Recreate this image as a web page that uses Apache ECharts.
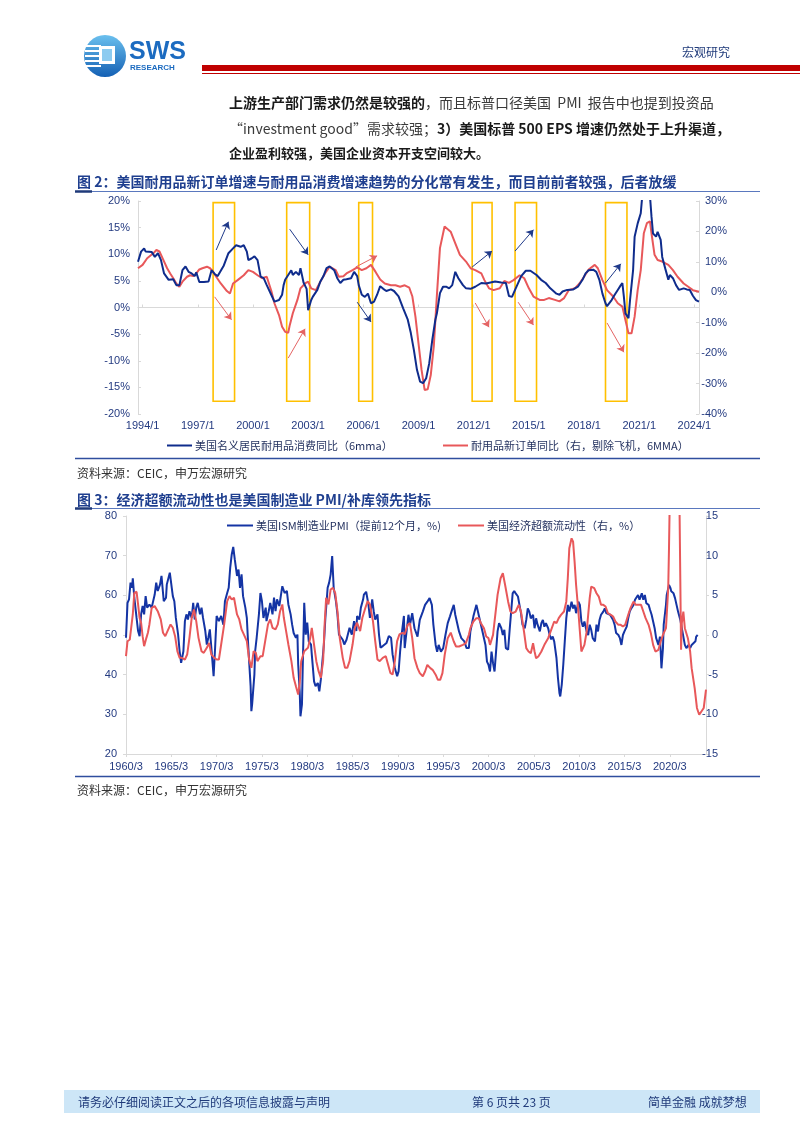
<!DOCTYPE html>
<html><head><meta charset="utf-8">
<script src="https://cdn.jsdelivr.net/npm/echarts/dist/echarts.min.js"></script>
<style>html,body{margin:0;padding:0;background:#fff}#c{width:802px;height:1133px}</style>
</head><body><div id="c"></div>
<script>
// ---------------- data (decimal year, value) ----------------
// Figure 2: US nominal durable goods consumption YoY (6mma), left axis, %
const durConsumption = [[1993.75,8.6],[1993.9,10.5],[1994.05,11.1],[1994.2,10.5],[1994.47,10.4],[1994.65,9.5],[1994.84,10.2],[1995.0,8.9],[1995.2,6.4],[1995.38,5.2],[1995.65,5.3],[1995.84,4.2],[1996.0,4.2],[1996.15,7.0],[1996.3,7.7],[1996.47,6.7],[1996.66,6.4],[1996.84,5.9],[1996.95,6.6],[1997.1,4.8],[1997.3,4.8],[1997.55,4.9],[1997.75,7.0],[1997.9,6.3],[1998.1,5.9],[1998.4,7.9],[1998.65,10.2],[1998.93,11.1],[1999.06,11.7],[1999.3,11.4],[1999.47,11.7],[1999.66,10.5],[1999.75,8.9],[1999.93,9.2],[2000.1,9.6],[2000.26,8.9],[2000.38,5.8],[2000.56,5.5],[2000.75,4.2],[2001.0,2.35],[2001.2,1.1],[2001.38,1.4],[2001.57,2.4],[2001.65,4.2],[2001.78,5.2],[2001.93,6.1],[2002.05,7.0],[2002.2,6.1],[2002.33,6.7],[2002.47,6.1],[2002.62,7.4],[2002.75,4.7],[2002.88,3.5],[2003.02,-0.5],[2003.15,1.4],[2003.29,2.0],[2003.47,3.3],[2003.65,4.9],[2003.84,5.9],[2004.0,7.4],[2004.2,7.7],[2004.38,7.0],[2004.56,5.5],[2004.75,4.6],[2004.93,5.2],[2005.1,5.3],[2005.3,5.5],[2005.47,6.7],[2005.65,5.9],[2005.78,4.2],[2005.93,2.4],[2006.1,2.0],[2006.29,2.6],[2006.44,0.8],[2006.56,1.1],[2006.75,2.4],[2006.93,4.0],[2007.1,3.5],[2007.29,3.1],[2007.47,3.4],[2007.7,3.1],[2007.93,2.1],[2008.2,-0.15],[2008.38,-2.3],[2008.56,-4.8],[2008.75,-8.0],[2008.93,-11.7],[2009.1,-13.9],[2009.24,-14.2],[2009.38,-13.3],[2009.56,-10.5],[2009.75,-6.1],[2009.93,-2.3],[2010.02,-1.1],[2010.15,2.7],[2010.3,3.9],[2010.47,3.9],[2010.65,3.6],[2010.84,4.2],[2011.02,6.7],[2011.2,5.5],[2011.38,4.2],[2011.56,3.6],[2011.84,3.5],[2012.1,3.9],[2012.38,4.6],[2012.65,4.5],[2012.93,4.7],[2013.2,4.9],[2013.47,4.7],[2013.75,4.6],[2013.93,2.15],[2014.1,2.0],[2014.29,3.3],[2014.56,5.9],[2014.84,6.9],[2015.1,6.9],[2015.38,6.1],[2015.65,5.2],[2015.93,4.6],[2016.2,3.6],[2016.47,2.6],[2016.65,2.4],[2016.84,3.0],[2017.1,3.3],[2017.38,3.4],[2017.65,3.9],[2017.93,5.2],[2018.1,6.4],[2018.29,7.0],[2018.47,7.1],[2018.65,6.7],[2018.84,5.2],[2019.02,2.6],[2019.2,0.8],[2019.29,0.25],[2019.47,1.4],[2019.65,2.4],[2019.84,3.3],[2020.02,4.2],[2020.1,4.6],[2020.16,2.0],[2020.29,-1.1],[2020.38,-2.0],[2020.53,1.4],[2020.66,7.0],[2020.79,13.3],[2020.93,15.8],[2021.07,17.7],[2021.15,21],[2021.25,26],[2021.35,28],[2021.45,25],[2021.56,21],[2021.66,17.1],[2021.75,13.9],[2021.88,13.3],[2022.02,14.2],[2022.16,12.7],[2022.29,9.5],[2022.38,7.3],[2022.56,5.2],[2022.7,6.1],[2022.84,5.5],[2023.02,4.2],[2023.2,3.3],[2023.38,3.6],[2023.56,3.4],[2023.75,3.3],[2023.93,2.2],[2024.1,1.4],[2024.25,1.1]];
// Figure 2: durable goods new orders YoY ex aircraft (6MMA), right axis, %
const durOrders = [[1993.75,7.9],[1994.0,9.0],[1994.28,11.2],[1994.56,12.8],[1994.75,13.9],[1994.93,13.4],[1995.1,11.2],[1995.3,7.9],[1995.47,6.2],[1995.65,4.6],[1995.84,2.9],[1996.02,1.8],[1996.2,3.5],[1996.38,5.1],[1996.56,5.6],[1996.75,5.3],[1996.93,6.2],[1997.1,7.5],[1997.29,7.9],[1997.47,8.4],[1997.65,7.9],[1997.84,6.7],[1998.02,5.1],[1998.29,2.9],[1998.56,0.4],[1998.75,-0.4],[1998.93,2.9],[1999.2,4.0],[1999.47,5.6],[1999.75,7.3],[2000.02,6.7],[2000.29,5.6],[2000.47,4.6],[2000.75,5.1],[2001.0,0.4],[2001.2,-3.6],[2001.38,-7.5],[2001.57,-11.3],[2001.75,-13.0],[2001.88,-13.3],[2002.02,-10.8],[2002.2,-6.9],[2002.38,-2.5],[2002.56,1.3],[2002.84,2.9],[2003.02,3.5],[2003.2,1.3],[2003.42,0.7],[2003.65,3.5],[2003.93,6.2],[2004.2,8.4],[2004.47,7.3],[2004.65,5.1],[2004.93,5.3],[2005.1,6.2],[2005.38,7.3],[2005.65,8.2],[2005.93,7.3],[2006.2,7.9],[2006.44,9.0],[2006.65,6.7],[2006.93,4.2],[2007.2,2.9],[2007.47,2.3],[2007.75,2.3],[2008.02,1.8],[2008.29,2.3],[2008.5,1.5],[2008.65,-1.4],[2008.84,-8.0],[2009.02,-16.8],[2009.2,-25.5],[2009.35,-32.1],[2009.47,-31.9],[2009.65,-27.2],[2009.84,-17.6],[2010.02,-1.0],[2010.2,14.5],[2010.38,21.6],[2010.53,22.2],[2010.75,19.9],[2011.02,16.1],[2011.29,12.3],[2011.56,10.1],[2011.84,7.9],[2012.1,7.3],[2012.38,6.2],[2012.56,4.0],[2012.84,1.3],[2013.1,0.7],[2013.38,1.3],[2013.65,3.7],[2013.93,3.1],[2014.2,4.0],[2014.47,5.6],[2014.75,4.6],[2015.02,1.3],[2015.29,-1.4],[2015.56,-2.5],[2015.84,-2.5],[2016.1,-1.9],[2016.38,-2.5],[2016.65,-3.0],[2016.93,-1.9],[2017.2,0.7],[2017.47,1.3],[2017.75,2.9],[2018.02,5.1],[2018.29,7.5],[2018.56,9.0],[2018.75,7.9],[2019.02,4.0],[2019.29,0.7],[2019.56,-1.4],[2019.84,-3.6],[2020.1,-4.7],[2020.25,-9.1],[2020.38,-13.5],[2020.56,-13.5],[2020.75,-8.0],[2020.93,0.7],[2021.1,7.3],[2021.29,19.4],[2021.44,22.7],[2021.56,23.3],[2021.69,19.4],[2021.84,12.3],[2022.02,10.6],[2022.29,10.1],[2022.56,9.0],[2022.84,7.3],[2023.1,5.1],[2023.38,2.9],[2023.65,1.8],[2023.93,0.7],[2024.25,0.2]];
// Figure 2 annotations: yellow boxes [start, end] (left-axis values) and arrows
const fig2Boxes = [[1997.82,1998.96], [2001.8,2003.1], [2005.75,2006.46], [2011.9,2012.98], [2014.24,2015.39], [2019.15,2020.35]];
const boxTop = 19.7, boxBottom = -17.6;
const blueArrows = [[[1998.04,10.8],[1998.64,16.1]],[[2002.02,14.7],[2003.0,9.9]],[[2005.67,1.0],[2006.44,-2.7]],[[2011.95,7.6],[2012.98,10.6]],[[2014.29,10.6],[2015.22,14.6]],[[2019.2,4.6],[2020.0,8.2]]];
const redArrows = [[[1997.93,2.0],[1998.8,-2.3]],[[2001.9,-9.5],[2002.84,-4.0]],[[2005.56,7.6],[2006.76,9.7]],[[2012.1,0.85],[2012.87,-3.7]],[[2014.4,1.0],[2015.27,-3.3]],[[2019.25,-2.9],[2020.13,-8.4]]];

// Figure 3: ISM manufacturing PMI (lead 12m), left axis
const ismPMI = [[1960.17,49.3],[1960.3,58.1],[1960.5,59.0],[1960.65,63.2],[1960.8,61.9],[1960.95,64.3],[1961.1,59.4],[1961.3,54.3],[1961.5,51.0],[1961.65,49.7],[1961.85,55.2],[1962.0,57.3],[1962.2,55.2],[1962.3,59.8],[1962.5,56.9],[1962.75,57.7],[1963.0,56.9],[1963.3,60.2],[1963.5,63.2],[1963.7,61.1],[1963.9,62.7],[1964.1,64.9],[1964.35,58.5],[1964.55,59.4],[1964.7,62.7],[1964.98,65.7],[1965.17,65.3],[1965.35,59.8],[1965.54,58.5],[1965.7,54.3],[1965.9,50.1],[1966.1,45.9],[1966.28,43.0],[1966.5,45.9],[1966.65,53.5],[1966.85,55.2],[1967.0,53.9],[1967.2,56.0],[1967.4,54.3],[1967.55,58.1],[1967.75,53.9],[1967.95,56.9],[1968.1,58.1],[1968.3,55.2],[1968.5,56.9],[1968.7,54.3],[1968.9,51.0],[1969.05,47.6],[1969.25,49.3],[1969.4,51.4],[1969.6,46.8],[1969.8,39.6],[1969.98,46.8],[1970.17,54.8],[1970.4,53.5],[1970.7,54.8],[1970.9,52.6],[1971.1,58.5],[1971.3,60.6],[1971.5,61.9],[1971.65,67.0],[1971.85,70.3],[1972.0,72.2],[1972.2,69.1],[1972.4,64.9],[1972.55,66.5],[1972.75,61.9],[1972.95,65.3],[1973.1,59.8],[1973.3,56.9],[1973.5,54.3],[1973.7,46.8],[1973.9,37.1],[1974.0,30.8],[1974.1,32.5],[1974.3,40.0],[1974.4,45.9],[1974.6,49.3],[1974.8,55.2],[1975.0,60.6],[1975.17,58.5],[1975.35,54.3],[1975.55,56.9],[1975.7,53.5],[1975.9,56.0],[1976.1,58.1],[1976.3,55.2],[1976.5,59.4],[1976.65,56.0],[1976.85,59.0],[1977.1,57.3],[1977.3,61.1],[1977.45,62.3],[1977.7,60.6],[1977.95,61.1],[1978.1,57.7],[1978.3,55.2],[1978.5,52.6],[1978.7,50.5],[1978.9,49.3],[1979.05,50.1],[1979.17,42.6],[1979.3,35.8],[1979.4,29.5],[1979.55,32.5],[1979.7,41.7],[1979.8,58.1],[1979.98,50.1],[1980.17,53.1],[1980.35,48.4],[1980.55,47.6],[1980.7,45.1],[1980.9,38.3],[1981.1,37.1],[1981.3,37.9],[1981.5,35.8],[1981.65,38.8],[1981.85,39.2],[1982.0,47.6],[1982.2,54.3],[1982.4,61.9],[1982.6,63.2],[1982.75,65.3],[1982.95,69.9],[1983.1,61.9],[1983.3,58.5],[1983.5,55.2],[1983.7,50.1],[1983.85,50.5],[1984.05,48.8],[1984.25,47.6],[1984.5,48.8],[1984.8,51.8],[1985.1,50.1],[1985.35,53.5],[1985.55,51.0],[1985.7,54.8],[1985.9,53.9],[1986.1,56.9],[1986.3,59.0],[1986.45,60.2],[1986.7,60.9],[1986.95,57.7],[1987.1,54.3],[1987.3,59.0],[1987.5,56.0],[1987.7,53.9],[1987.9,55.2],[1988.05,50.1],[1988.25,46.8],[1988.5,47.2],[1988.9,48.0],[1989.2,49.7],[1989.4,49.3],[1989.6,45.1],[1989.8,41.7],[1990.05,39.6],[1990.25,40.9],[1990.45,45.9],[1990.6,50.1],[1990.8,54.8],[1990.93,46.7],[1991.15,51.7],[1991.3,55.1],[1991.5,52.6],[1991.77,55.5],[1992.0,51.7],[1992.3,49.6],[1992.6,53.8],[1992.9,55.9],[1993.15,57.6],[1993.45,58.4],[1993.7,59.3],[1993.9,57.6],[1994.1,52.6],[1994.3,47.5],[1994.47,45.8],[1994.65,47.5],[1994.9,45.8],[1995.17,46.7],[1995.4,50.0],[1995.65,53.0],[1995.9,54.7],[1996.1,55.9],[1996.3,57.6],[1996.5,55.1],[1996.7,54.7],[1996.95,50.9],[1997.2,49.2],[1997.5,48.4],[1997.75,46.7],[1998.0,46.7],[1998.2,50.9],[1998.5,54.7],[1998.8,57.6],[1998.97,57.6],[1999.2,54.2],[1999.5,50.9],[1999.8,47.5],[2000.0,43.3],[2000.15,42.5],[2000.37,40.8],[2000.52,45.8],[2000.67,42.9],[2000.82,40.8],[2001.0,45.8],[2001.2,50.9],[2001.37,53.0],[2001.55,51.7],[2001.75,50.0],[2001.92,51.3],[2002.1,46.7],[2002.3,46.3],[2002.5,51.3],[2002.67,55.9],[2002.85,60.5],[2003.0,61.1],[2003.2,60.5],[2003.4,59.7],[2003.6,57.6],[2003.77,55.5],[2003.95,52.6],[2004.13,51.7],[2004.3,53.8],[2004.5,56.7],[2004.7,55.9],[2004.87,54.2],[2005.05,55.1],[2005.25,51.7],[2005.45,54.2],[2005.6,52.6],[2005.8,50.9],[2006.0,53.0],[2006.17,53.8],[2006.35,52.1],[2006.53,53.0],[2006.72,51.7],[2006.9,50.0],[2007.1,48.9],[2007.27,49.6],[2007.45,48.4],[2007.65,44.2],[2007.83,39.1],[2007.97,35.3],[2008.1,34.5],[2008.27,37.5],[2008.42,42.5],[2008.57,48.4],[2008.75,54.2],[2008.93,57.6],[2009.1,55.9],[2009.3,58.4],[2009.47,56.7],[2009.67,57.6],[2009.85,55.5],[2010.05,58.4],[2010.22,57.6],[2010.4,53.4],[2010.6,52.1],[2010.78,53.4],[2010.97,50.9],[2011.15,50.0],[2011.33,52.6],[2011.5,51.3],[2011.7,49.2],[2011.88,48.4],[2012.05,52.6],[2012.25,50.9],[2012.4,53.8],[2012.6,55.1],[2012.8,55.9],[2012.97,56.7],[2013.15,55.5],[2013.35,55.9],[2013.55,55.1],[2013.73,54.7],[2013.9,53.8],[2014.1,52.6],[2014.28,50.5],[2014.47,50.0],[2014.65,49.2],[2014.83,47.5],[2015.0,50.0],[2015.2,50.9],[2015.4,52.1],[2015.57,54.2],[2015.75,55.9],[2015.95,56.7],[2016.13,57.6],[2016.3,58.9],[2016.5,58.4],[2016.7,60.1],[2016.85,58.9],[2017.05,60.5],[2017.23,58.9],[2017.4,60.1],[2017.6,58.0],[2017.8,57.6],[2018.0,56.3],[2018.15,55.1],[2018.35,53.4],[2018.53,51.7],[2018.7,49.2],[2018.9,47.5],[2019.08,49.6],[2019.19,45.8],[2019.26,41.6],[2019.38,46.7],[2019.52,52.6],[2019.71,57.6],[2019.86,60.1],[2020.08,62.6],[2020.23,61.8],[2020.37,61.0],[2020.56,60.5],[2020.74,59.3],[2020.93,57.6],[2021.11,55.9],[2021.3,53.8],[2021.48,51.7],[2021.66,49.6],[2021.85,47.5],[2022.03,46.7],[2022.22,47.5],[2022.4,46.7],[2022.59,47.5],[2022.77,47.1],[2022.96,48.4],[2023.1,49.6],[2023.21,50.0]];
// Figure 3: US excess liquidity, right axis, %
const excessLiquidity = [[1960.17,-2.67],[1960.35,-0.78],[1960.55,-0.57],[1960.72,-0.36],[1960.9,2.59],[1961.1,5.32],[1961.3,5.45],[1961.5,3.85],[1961.65,2.17],[1961.85,1.54],[1962.0,-0.15],[1962.2,-1.41],[1962.4,-0.36],[1962.6,0.28],[1962.75,1.33],[1963.0,3.43],[1963.3,3.64],[1963.7,3.0],[1964.0,1.96],[1964.25,0.28],[1964.5,-0.15],[1964.8,0.7],[1965.05,1.33],[1965.35,0.91],[1965.6,-0.15],[1965.85,-2.04],[1966.1,-2.88],[1966.35,-2.88],[1966.65,-3.09],[1966.9,-2.46],[1967.2,-0.36],[1967.45,2.17],[1967.7,3.22],[1967.95,1.75],[1968.2,-0.36],[1968.5,-2.04],[1968.75,-2.25],[1969.05,-1.62],[1969.3,-0.99],[1969.6,-2.46],[1969.9,-2.88],[1970.17,-3.09],[1970.4,-3.09],[1970.7,-1.2],[1971.0,1.33],[1971.3,4.27],[1971.55,4.9],[1971.85,4.48],[1972.1,4.69],[1972.4,2.59],[1972.65,1.96],[1972.95,0.7],[1973.2,0.07],[1973.5,-0.78],[1973.75,-3.09],[1974.0,-4.14],[1974.25,-2.04],[1974.5,-2.25],[1974.7,-3.3],[1975.0,-2.67],[1975.25,-2.67],[1975.55,-0.36],[1975.85,1.33],[1976.1,1.96],[1976.35,0.91],[1976.65,0.7],[1976.95,1.33],[1977.2,3.0],[1977.4,3.85],[1977.55,2.17],[1977.8,0.49],[1978.1,-1.2],[1978.4,-3.3],[1978.7,-5.4],[1978.95,-6.46],[1979.17,-7.5],[1979.3,-6.03],[1979.5,-3.3],[1979.8,-2.04],[1980.0,-1.83],[1980.25,-1.62],[1980.5,-0.36],[1980.7,0.91],[1980.9,-1.2],[1981.15,-3.3],[1981.45,-4.56],[1981.7,-5.4],[1981.9,-3.3],[1982.1,1.33],[1982.25,4.69],[1982.5,3.85],[1982.75,5.74],[1983.0,5.95],[1983.25,5.32],[1983.5,3.0],[1983.75,-0.36],[1984.05,-2.88],[1984.35,-4.14],[1984.6,-4.14],[1984.87,-3.3],[1985.17,-1.2],[1985.45,0.91],[1985.7,1.54],[1985.98,0.49],[1986.27,2.17],[1986.57,3.43],[1986.83,4.27],[1987.1,3.85],[1987.4,1.75],[1987.7,-0.78],[1987.95,-3.09],[1988.2,-3.3],[1988.5,-2.88],[1988.8,-2.67],[1989.05,-3.72],[1989.3,-4.77],[1989.55,-4.98],[1989.8,-3.3],[1990.05,-0.78],[1990.35,0.07],[1990.65,0.28],[1990.9,0.1],[1991.22,1.28],[1991.5,1.49],[1991.77,-0.4],[1992.0,-2.92],[1992.3,-4.18],[1992.6,-4.8],[1992.9,-5.2],[1993.15,-4.6],[1993.45,-3.76],[1993.73,-4.18],[1994.0,-4.39],[1994.3,-5.0],[1994.6,-5.65],[1994.83,-5.65],[1995.05,-4.8],[1995.35,-2.5],[1995.65,-0.4],[1996.0,0.3],[1996.1,0.44],[1996.3,-0.82],[1996.57,-1.45],[1996.95,-1.45],[1997.3,-1.24],[1997.68,-1.03],[1998.0,0.02],[1998.2,0.86],[1998.5,1.7],[1998.8,2.12],[1999.05,2.12],[1999.35,1.49],[1999.65,0.86],[1999.9,-0.19],[2000.15,-0.4],[2000.37,-1.24],[2000.63,0.02],[2000.9,2.54],[2001.2,5.05],[2001.5,7.15],[2001.75,7.78],[2002.0,6.3],[2002.3,4.2],[2002.6,2.96],[2002.85,2.75],[2003.2,2.96],[2003.5,3.8],[2003.77,2.96],[2004.07,0.44],[2004.33,-1.66],[2004.6,-2.08],[2004.87,-2.29],[2005.05,-1.03],[2005.25,-2.08],[2005.43,-2.92],[2005.7,-2.71],[2006.0,-2.08],[2006.35,-1.24],[2006.72,-0.4],[2007.1,0.65],[2007.38,1.7],[2007.65,1.49],[2007.9,2.12],[2008.2,2.54],[2008.5,2.96],[2008.75,4.2],[2008.93,7.15],[2009.12,10.93],[2009.3,12.19],[2009.47,11.77],[2009.67,9.25],[2009.85,6.3],[2010.05,2.96],[2010.22,0.44],[2010.4,-2.08],[2010.6,-2.29],[2010.78,-1.24],[2010.97,0.44],[2011.15,2.54],[2011.33,4.64],[2011.5,6.1],[2011.8,5.9],[2012.05,5.26],[2012.3,4.84],[2012.55,3.8],[2012.8,3.8],[2013.05,3.59],[2013.35,2.75],[2013.65,2.54],[2013.9,2.33],[2014.15,1.7],[2014.47,1.28],[2014.77,1.28],[2015.0,1.07],[2015.28,1.28],[2015.57,2.54],[2015.87,3.38],[2016.13,4.2],[2016.4,3.8],[2016.7,3.8],[2016.97,3.8],[2017.23,2.96],[2017.5,2.12],[2017.8,1.28],[2018.1,0.23],[2018.35,-1.24],[2018.6,-2.08],[2018.9,-1.87],[2019.2,-0.82],[2019.45,0.02],[2019.71,0.86],[2019.86,2.54],[2019.97,5.9],[2020.07,10.9],[2020.2,17],[2020.35,22],[2020.6,25],[2020.9,24],[2021.1,20],[2021.28,15.5],[2021.4,-1.87],[2021.52,1.5],[2021.66,2.96],[2021.85,0.86],[2022.14,-0.4],[2022.4,-2.08],[2022.6,-4.18],[2022.88,-6.7],[2023.14,-9.2],[2023.4,-10.05],[2023.62,-10.26],[2023.88,-9.2],[2024.14,-6.9]];

// tick labels / names
const fig2Names = ['美国名义居民耐用品消费同比（6mma）', '耐用品新订单同比（右，剔除飞机，6MMA）'];
const fig3Names = ['美国ISM制造业PMI（提前12个月，%)', '美国经济超额流动性（右，%）'];

// ---------------- helpers ----------------
function months(y0, m0, y1, m1) { const a = []; let y = y0, m = m0; while (y < y1 || (y === y1 && m <= m1)) { a.push(y + '/' + m); m++; if (m > 12) { m = 1; y++; } } return a; }
const cat2 = months(1993, 10, 2024, 4);
const cat3 = months(1960, 3, 2024, 3);
function toCat(cats, d) {
  let y = Math.floor(d + 1e-6); let m = Math.round((d - y) * 12) + 1; if (m > 12) { m -= 12; y++; }
  let s = y + '/' + m;
  if (cats.indexOf(s) < 0) s = (y < 2000 ? cats[0] : cats[cats.length - 1]);
  return s;
}
const pts = (cats, arr) => arr.map(p => [toCat(cats, p[0]), p[1]]);

const CJK = '"Noto Sans CJK SC", "Liberation Sans", sans-serif';
const ARIAL = '"Liberation Sans", "Noto Sans CJK SC", sans-serif';
const NAVY = '#1F3A7A';
const LBL = '#233A80';
const AX = '#D9D9D9';
const BLUE2 = '#0F2C8C', BLUE3 = '#1434A4', RED = '#E8585A', YEL = '#FFC000';

const lab2 = (idx) => (idx - 3) % 36 === 0;
const lab3 = (idx) => idx % 60 === 0;

function T(x, y, text, font, fill, extra) {
  return { type: 'text', x: x, y: y, silent: true, z: 10,
    style: Object.assign({ text: text, font: font, fill: fill, verticalAlign: 'middle', textVerticalAlign: 'middle', align: 'left', textAlign: 'left' }, extra || {}) };
}
function L(x1, y1, x2, y2, color, w) {
  return { type: 'line', silent: true, z: 10, shape: { x1: x1, y1: y1, x2: x2, y2: y2 }, style: { stroke: color, lineWidth: w } };
}
function R(x, y, w, h, fill) {
  return { type: 'rect', silent: true, z: 10, shape: { x: x, y: y, width: w, height: h }, style: { fill: fill } };
}

const bodyRich = {
  b: { font: 'bold 14px ' + CJK, fill: '#1a1a1a' },
  n: { font: '14px ' + CJK, fill: '#3a3a3a' },
  b3: { font: 'bold 13px ' + CJK, fill: '#1a1a1a' }
};

const graphics = [
  // logo
  { type: 'circle', silent: true, z: 10, shape: { cx: 105, cy: 56, r: 21 },
    style: { fill: new echarts.graphic.LinearGradient(0, 0, 0, 1, [{ offset: 0, color: '#6BC0EE' }, { offset: 1, color: '#1460B4' }]) } },
  R(86, 45, 15, 2, '#ffffff'), R(85, 50, 16, 2, '#ffffff'), R(85, 55, 16, 2, '#ffffff'), R(85, 60, 16, 2, '#ffffff'), R(86, 65, 15, 2, '#ffffff'),
  R(99, 46, 16, 18, '#ffffff'), R(102, 49, 10, 12, '#8CCBF0'),
  T(129, 52, 'SWS', 'bold 25px "Liberation Sans", sans-serif', '#1C6BC0'),
  T(130, 68, 'RESEARCH', 'bold 8px "Liberation Sans", sans-serif', '#1C6BC0'),
  // header bars
  R(202, 65, 598, 6, '#C00000'),
  L(202, 73.5, 800, 73.5, '#C00000', 1),
  T(682, 52, '宏观研究', '12px ' + CJK, NAVY),
  // body text
  T(229, 103, '{b|上游生产部门需求仍然是较强的}{n|，而且标普口径美国  PMI  报告中也提到投资品}', '14px ' + CJK, '#333', { rich: bodyRich }),
  T(229, 129, '{n|“investment good”需求较强；}{b|3）美国标普 500 EPS 增速仍然处于上升渠道，}', '14px ' + CJK, '#333', { rich: bodyRich }),
  T(229, 153, '{b3|企业盈利较强，美国企业资本开支空间较大。}', '13px ' + CJK, '#333', { rich: bodyRich }),
  // figure 2 frame
  T(77, 182, '图 2：美国耐用品新订单增速与耐用品消费增速趋势的分化常有发生，而目前前者较强，后者放缓', 'bold 14px ' + CJK, '#1F3F8F'),
  L(75, 191.5, 760, 191.5, '#5A78BE', 1.2),
  L(75, 191.5, 92, 191.5, '#1F3A7A', 2.5),
  L(75, 458.5, 760, 458.5, '#2F4E9E', 1.5),
  T(77, 473, '资料来源：CEIC，申万宏源研究', '12px ' + CJK, '#333'),
  // figure 3 frame
  T(77, 500, '图 3：经济超额流动性也是美国制造业 PMI/补库领先指标', 'bold 14px ' + CJK, '#1F3F8F'),
  L(75, 508.5, 760, 508.5, '#5A78BE', 1.2),
  L(75, 508.5, 92, 508.5, '#1F3A7A', 2.5),
  L(75, 776.5, 760, 776.5, '#2F4E9E', 1.5),
  T(77, 790, '资料来源：CEIC，申万宏源研究', '12px ' + CJK, '#333'),
  // footer
  R(64, 1090, 696, 23, '#CDE6F7'),
  T(78, 1102, '请务必仔细阅读正文之后的各项信息披露与声明', '12px ' + CJK, NAVY),
  T(472, 1102, '第 6 页共 23 页', '12px ' + CJK, NAVY),
  T(648, 1102, '简单金融 成就梦想', '12px ' + CJK, NAVY)
];

const boxData = fig2Boxes.map(b => [
  { coord: [toCat(cat2, b[0]), boxTop] },
  { coord: [toCat(cat2, b[1]), boxBottom] }
]);
const arrowItem = (a, color) => [
  { coord: [toCat(cat2, a[0][0]), a[0][1]], lineStyle: { color: color, width: 1, type: 'solid' }, itemStyle: { color: color } },
  { coord: [toCat(cat2, a[1][0]), a[1][1]], lineStyle: { color: color, width: 1, type: 'solid' }, itemStyle: { color: color } }
];
const arrowData = blueArrows.map(a => arrowItem(a, '#1F3A8A')).concat(redArrows.map(a => arrowItem(a, '#E46464')));

const axisLbl = { fontFamily: ARIAL, fontSize: 11, color: LBL };
const legendBase = { icon: 'rect', itemHeight: 2, itemGap: 0, textStyle: { fontSize: 11, color: '#1F2D5C', fontFamily: CJK, padding: [0, 0, 0, -2] } };

const option = {
  animation: false,
  backgroundColor: '#ffffff',
  textStyle: { fontFamily: CJK },
  grid: [
    { left: 138, right: 103, top: 201, bottom: 719, containLabel: false, outerBoundsMode: 'none' },
    { left: 126, right: 96, top: 516, bottom: 379, containLabel: false, outerBoundsMode: 'none' }
  ],
  legend: [
    Object.assign({ data: [fig2Names[0]], left: 162, top: 435, itemWidth: 25 }, legendBase),
    Object.assign({ data: [fig2Names[1]], left: 438, top: 435, itemWidth: 25 }, legendBase),
    Object.assign({ data: [fig3Names[0]], left: 222, top: 515, itemWidth: 26 }, legendBase),
    Object.assign({ data: [fig3Names[1]], left: 453, top: 515, itemWidth: 26 }, legendBase)
  ],
  xAxis: [
    { gridIndex: 0, type: 'category', data: cat2, boundaryGap: false, position: 'bottom',
      axisLine: { show: false, onZero: false }, axisTick: { show: false }, splitLine: { show: false },
      axisLabel: Object.assign({ interval: lab2, margin: 6 }, axisLbl) },
    { gridIndex: 0, type: 'category', data: cat2, boundaryGap: false, position: 'top',
      axisLine: { show: true, onZero: true, onZeroAxisIndex: 0, lineStyle: { color: AX, width: 1 } },
      axisTick: { show: true, interval: lab2, length: 3, inside: false, lineStyle: { color: AX } },
      axisLabel: { show: false }, splitLine: { show: false } },
    { gridIndex: 1, type: 'category', data: cat3, boundaryGap: false, position: 'bottom',
      axisLine: { show: true, onZero: false, lineStyle: { color: AX, width: 1 } },
      axisTick: { show: true, interval: lab3, length: 3, lineStyle: { color: AX } }, splitLine: { show: false },
      axisLabel: Object.assign({ interval: lab3, margin: 7 }, axisLbl) }
  ],
  yAxis: [
    { gridIndex: 0, type: 'value', min: -20, max: 20, interval: 5, position: 'left',
      axisLine: { show: true, lineStyle: { color: AX } }, axisTick: { show: true, inside: true, length: 3, lineStyle: { color: AX } },
      splitLine: { show: false }, axisLabel: Object.assign({ formatter: '{value}%', margin: 8 }, axisLbl) },
    { gridIndex: 0, type: 'value', min: -40, max: 30, interval: 10, position: 'right',
      axisLine: { show: true, lineStyle: { color: AX } }, axisTick: { show: true, inside: true, length: 3, lineStyle: { color: AX } },
      splitLine: { show: false }, axisLabel: Object.assign({ formatter: '{value}%', margin: 28, align: 'right' }, axisLbl) },
    { gridIndex: 1, type: 'value', min: 20, max: 80, interval: 10, position: 'left',
      axisLine: { show: true, lineStyle: { color: AX } }, axisTick: { show: true, length: 3, lineStyle: { color: AX } },
      splitLine: { show: false }, axisLabel: Object.assign({ margin: 9 }, axisLbl) },
    { gridIndex: 1, type: 'value', min: -15, max: 15, interval: 5, position: 'right',
      axisLine: { show: true, lineStyle: { color: AX } }, axisTick: { show: true, length: 3, lineStyle: { color: AX } },
      splitLine: { show: false }, axisLabel: Object.assign({ margin: 12, align: 'right' }, axisLbl) }
  ],
  series: [
    { name: fig2Names[1], type: 'line', xAxisIndex: 0, yAxisIndex: 1, data: pts(cat2, durOrders),
      symbol: 'none', smooth: false, lineStyle: { color: RED, width: 2 }, itemStyle: { color: RED }, z: 2 },
    { name: fig2Names[0], type: 'line', xAxisIndex: 0, yAxisIndex: 0, data: pts(cat2, durConsumption),
      symbol: 'none', smooth: false, lineStyle: { color: BLUE2, width: 2 }, itemStyle: { color: BLUE2 }, z: 3,
      markArea: { silent: true, itemStyle: { color: 'rgba(0,0,0,0)', borderColor: YEL, borderWidth: 1.6 }, label: { show: false }, data: boxData },
      markLine: { silent: true, symbol: ['none', 'arrow'], symbolSize: 7, label: { show: false }, emphasis: { disabled: true }, data: arrowData } },
    { name: fig3Names[0], type: 'line', xAxisIndex: 2, yAxisIndex: 2, data: pts(cat3, ismPMI),
      symbol: 'none', smooth: false, lineStyle: { color: BLUE3, width: 2 }, itemStyle: { color: BLUE3 }, z: 2 },
    { name: fig3Names[1], type: 'line', xAxisIndex: 2, yAxisIndex: 3, data: pts(cat3, excessLiquidity),
      symbol: 'none', smooth: false, lineStyle: { color: RED, width: 2 }, itemStyle: { color: RED }, z: 3 }
  ],
  graphic: { elements: graphics }
};

const chart = echarts.init(document.getElementById('c'), null, { renderer: 'canvas', width: 802, height: 1133 });
chart.setOption(option);
</script></body></html>
